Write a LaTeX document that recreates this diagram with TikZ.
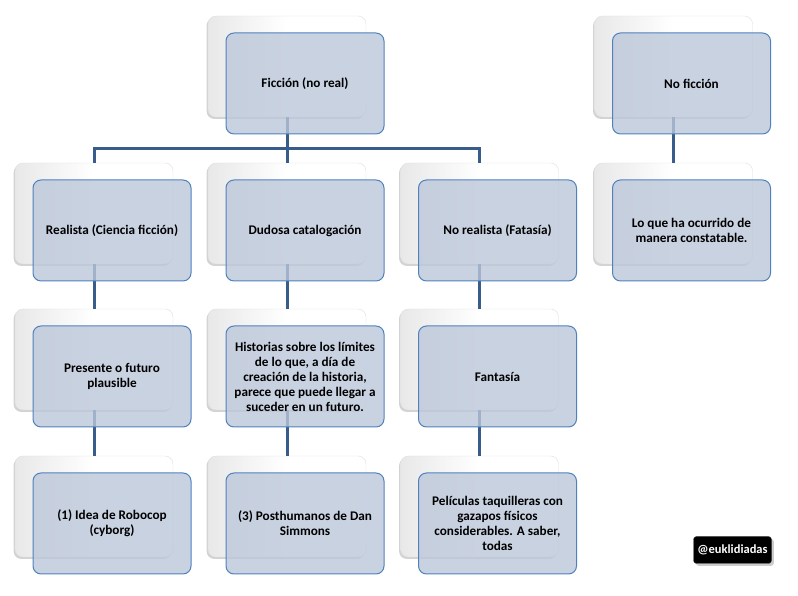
\documentclass[tikz,border=0pt]{standalone}
\usepackage{fontspec}
\setmainfont{Carlito}
\usetikzlibrary{shadows}
\definecolor{boxfill}{RGB}{188,199,218}
\definecolor{boxline}{RGB}{79,129,189}
\definecolor{connline}{RGB}{56,93,138}
\begin{document}
\begin{tikzpicture}[x=1pt, y=1pt, font=\fontsize{13.2}{15}\selectfont\bfseries,
        back/.style = {draw=gray!25, rounded corners=8pt, left color=gray!18, right color=white, middle color=white, minimum width=158pt, minimum height=101pt, inner sep=0pt, drop shadow={shadow xshift=-1.5pt, shadow yshift=-2pt, opacity=.35}},
        front/.style = {draw=boxline, line width=1pt, rounded corners=8pt, fill=boxfill, fill opacity=.8, text opacity=1, minimum width=158pt, minimum height=101pt, inner sep=2pt, align=center},
        conn/.style = {draw=connline, line width=3pt},
        badge/.style = {fill=black, draw=gray!60!black, rounded corners=3pt, text=white, font=\fontsize{12.5}{14}\selectfont\bfseries, minimum width=78pt, minimum height=27pt, drop shadow={opacity=.4}}]
    \useasboundingbox (0,0) rectangle (798,596);
    % back boxes
    \node[back] (s1) at (287,529.5) {};
    \node[back] (s2) at (94,382.5) {};
    \node[back] (s3) at (287,382.5) {};
    \node[back] (s4) at (479.5,382.5) {};
    \node[back] (s5) at (94,236.5) {};
    \node[back] (s6) at (287,236.5) {};
    \node[back] (s7) at (479.5,236.5) {};
    \node[back] (s8) at (94,89.5) {};
    \node[back] (s9) at (287,89.5) {};
    \node[back] (s10) at (479.5,89.5) {};
    \node[back] (s11) at (673.5,529.5) {};
    \node[back] (s12) at (673.5,382.5) {};
    % connectors
    \coordinate (bar) at (287,447);
    \draw[conn] (s1.south) -- (bar);
    \draw[conn] (s2.north) |- (bar) -| (s4.north);
    \draw[conn] (bar) -- (s3.north);
    \draw[conn] (s2.south) -- (s5.north);
    \draw[conn] (s3.south) -- (s6.north);
    \draw[conn] (s4.south) -- (s7.north);
    \draw[conn] (s5.south) -- (s8.north);
    \draw[conn] (s6.south) -- (s9.north);
    \draw[conn] (s7.south) -- (s10.north);
    \draw[conn] (s11.south) -- (s12.north);
    % front boxes
    \node[front] (1) at (305,512.5) {Ficción (no real)};
    \node[front] (2) at (112,365.5) {Realista (Ciencia ficción)};
    \node[front] (3) at (305,365.5) {Dudosa catalogación};
    \node[front] (4) at (497.5,365.5) {No realista (Fatasía)};
    \node[front] (5) at (112,219.5) {Presente o futuro\\plausible};
    \node[front] (6) at (305,219.5) {Historias sobre los límites\\de lo que, a día de\\creación de la historia,\\parece que puede llegar a\\suceder en un futuro.};
    \node[front] (7) at (497.5,219.5) {Fantasía};
    \node[front] (8) at (112,72.5) {(1) Idea de Robocop\\(cyborg)};
    \node[front] (9) at (305,72.5) {(3) Posthumanos de Dan\\Simmons};
    \node[front] (10) at (497.5,72.5) {Películas taquilleras con\\gazapos físicos\\considerables. A saber,\\todas};
    \node[front] (11) at (691.5,512.5) {No ficción};
    \node[front] (12) at (691.5,365.5) {Lo que ha ocurrido de\\manera constatable.};
    \node[badge] (tag) at (732.5,46) {@euklidiadas};
\end{tikzpicture}
\end{document}
